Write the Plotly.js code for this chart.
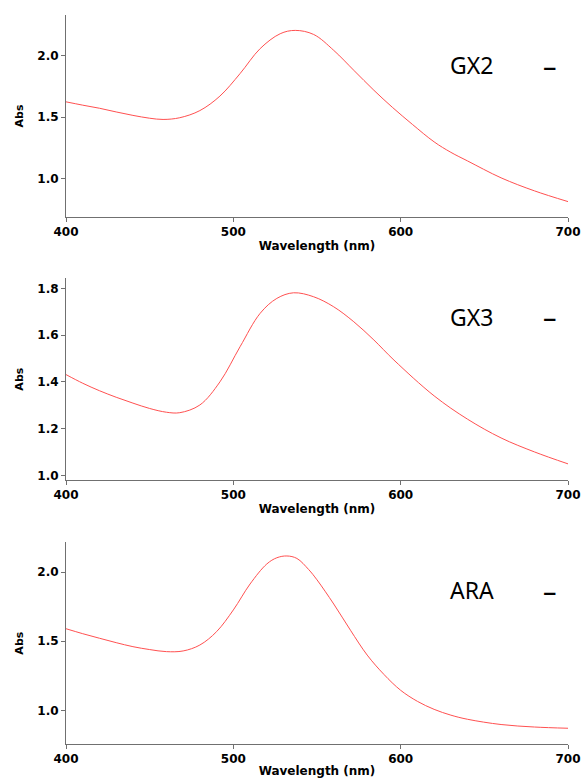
<!DOCTYPE html>
<html>
<head>
<meta charset="utf-8">
<script src="https://cdn.plot.ly/plotly-3.0.1.min.js"></script>
<style>html,body{margin:0;padding:0;background:#fff;}#chart{width:582px;height:778px;}</style>
</head>
<body>
<div id="chart"></div>
<script>
// Panel 1: GX2
const wlGX2 = [400,410,420,430,440,450,458,468,480,492,504,516,528,537,548,560,572,584,595,607,620,630,640,660,680,700];
const absGX2 = [1.625,1.598,1.573,1.543,1.515,1.492,1.482,1.496,1.554,1.672,1.854,2.057,2.178,2.205,2.172,2.043,1.881,1.719,1.581,1.442,1.300,1.215,1.145,1.008,0.902,0.815];
// Panel 2: GX3
const wlGX3 = [400,410,420,430,440,450,460,468,480,492,504,516,526,536,548,560,572,584,596,620,640,660,680,700];
const absGX3 = [1.431,1.394,1.362,1.334,1.309,1.286,1.270,1.268,1.301,1.400,1.550,1.693,1.757,1.781,1.764,1.721,1.657,1.579,1.493,1.340,1.240,1.160,1.100,1.049];
// Panel 3: ARA
const wlARA = [400,410,420,430,440,450,460,470,480,490,500,510,520,526,532,538,545,550,560,570,580,590,600,610,620,630,640,660,680,700];
const absARA = [1.591,1.555,1.522,1.490,1.461,1.440,1.425,1.430,1.473,1.570,1.727,1.915,2.060,2.105,2.118,2.100,2.020,1.945,1.770,1.580,1.400,1.260,1.145,1.065,1.007,0.965,0.935,0.897,0.879,0.870];

const labels = ["GX2","GX3","ARA"];
const xTicks = [400,500,600,700];
const xTitle = "Wavelength (nm)";
const yTitle = "Abs";

const W = 582, H = 778;
const lineColor = "#ff5050";
const axisGray = "#707070";
const tickFont = {family:"DejaVu Sans", size:12, weight:"bold", color:"#000"};
const titleFont = {family:"DejaVu Sans", size:12, weight:"bold", color:"#000"};

const boxes = [[15,217],[278.3,480],[542.3,744]];
const yRanges = [[0.69,2.33],[0.98,1.843],[0.756,2.217]];
const yDticks = [0.5,0.2,0.5];
const ml = 66, mr = 14;

const traces = [
  {x: wlGX2, y: absGX2, xaxis:"x", yaxis:"y"},
  {x: wlGX3, y: absGX3, xaxis:"x2", yaxis:"y2"},
  {x: wlARA, y: absARA, xaxis:"x3", yaxis:"y3"}
].map(t => Object.assign(t, {type:"scatter", mode:"lines", line:{color:lineColor, width:1, shape:"spline", smoothing:1}, showlegend:false, hoverinfo:"skip"}));

const layout = {
  width: W, height: H,
  margin: {l: ml, r: mr, t: 0, b: 0},
  paper_bgcolor: "#fff", plot_bgcolor: "#fff",
  showlegend: false,
  annotations: []
};

boxes.forEach((b, i) => {
  const sfx = i === 0 ? "" : String(i+1);
  const yd = [1 - b[1]/H, 1 - b[0]/H];
  layout["xaxis"+sfx] = {
    domain:[0,1], anchor:"y"+sfx, range:[400,700], tickvals:xTicks, ticktext:xTicks.map(String),
    showgrid:false, zeroline:false, showline:true, linecolor:axisGray, linewidth:1,
    ticks:"outside", ticklen:4, tickcolor:axisGray, tickwidth:1, tickfont:tickFont,
    title:{text:xTitle, font:titleFont, standoff:3}
  };
  layout["yaxis"+sfx] = {
    domain:yd, anchor:"x"+sfx, range:yRanges[i], dtick:yDticks[i], tick0:0, tickformat:".1f",
    showgrid:false, zeroline:false, showline:true, linecolor:axisGray, linewidth:1,
    ticks:"outside", ticklen:4, tickcolor:axisGray, tickwidth:1, tickfont:tickFont,
    title:{text:yTitle, font:{family:"DejaVu Sans", size:11, weight:"bold", color:"#000"}, standoff:11}
  };
  const cy = [65, 316.5, 590][i];
  layout.annotations.push({
    xref:"paper", yref:"paper", x:(471.5-ml)/(W-ml-mr), y:1-cy/H, text:labels[i], showarrow:false,
    xanchor:"center", yanchor:"middle", font:{family:"Noto Sans", size:23, color:"#000"}
  });
  layout.annotations.push({
    xref:"paper", yref:"paper", x:(550-ml)/(W-ml-mr), y:1-cy/H, text:"–", showarrow:false,
    xanchor:"center", yanchor:"middle", font:{family:"Noto Sans", size:27, color:"#000"}
  });
});

Plotly.newPlot("chart", traces, layout, {staticPlot:true, displayModeBar:false});
</script>
</body>
</html>
